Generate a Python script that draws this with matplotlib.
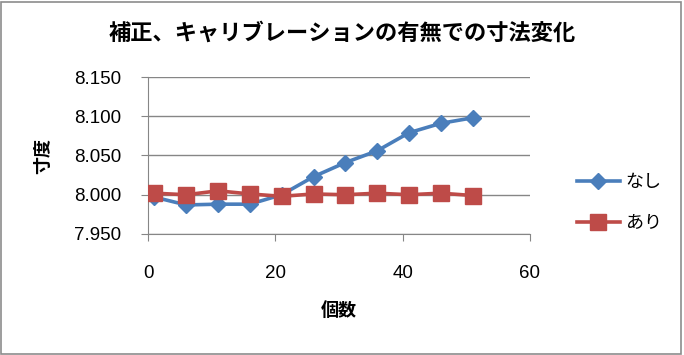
import matplotlib
matplotlib.use("Agg")
import matplotlib.pyplot as plt
from matplotlib.patches import Rectangle

plt.rcParams['font.family'] = ['Noto Sans CJK JP', 'DejaVu Sans']

x_counts = [1, 6, 11, 16, 21, 26, 31, 36, 41, 46, 51]
nashi = [7.997, 7.987, 7.988, 7.988, 8.000, 8.023, 8.041, 8.056, 8.079, 8.091, 8.098]
ari = [8.002, 8.000, 8.005, 8.001, 7.998, 8.001, 8.000, 8.002, 8.000, 8.002, 7.999]
yticks = [7.95, 8.0, 8.05, 8.1, 8.15]
xticks = [0, 20, 40, 60]

fig = plt.figure(figsize=(6.84, 3.55), dpi=100)
fig.patches.append(Rectangle((0.002, 0.004), 0.994, 0.99, transform=fig.transFigure,
                             fill=False, edgecolor='#8c8c8c', linewidth=1.2))

ax = fig.add_axes([148/684, 1-234/355, (530-148)/684, (234-77)/355])
ax.plot(x_counts, nashi, color='#4a7ebb', linewidth=2.6, marker='D', markersize=8,
        label='なし', zorder=3)
ax.plot(x_counts, ari, color='#be4b48', linewidth=2.6, marker='s', markersize=11,
        label='あり', zorder=4)

ax.set_xlim(0, 60)
ax.set_ylim(7.95, 8.15)
ax.set_xticks(xticks)
ax.set_yticks(yticks)
ax.set_yticklabels([f"{v:.3f}" for v in yticks])
ax.grid(axis='y', color='#868686', linewidth=1)
ax.set_axisbelow(True)
for s in ['top', 'right']:
    ax.spines[s].set_visible(False)
for s in ['left', 'bottom']:
    ax.spines[s].set_color('#868686')
ax.tick_params(axis='both', colors='#868686', labelcolor='black', labelsize=13.5, length=5)
ax.tick_params(axis='x', pad=17)
ax.tick_params(axis='y', pad=14)
for lab in ax.get_xticklabels() + ax.get_yticklabels():
    lab.set_family(['Liberation Sans', 'DejaVu Sans'])

ax.set_xlabel('個数', fontsize=13, fontweight='bold', labelpad=14)
ax.set_ylabel('寸度', fontsize=13, fontweight='bold', labelpad=16)
fig.text(0.5, 1-33/355, '補正、キャリブレーションの有無での寸法変化', ha='center', va='center',
         fontsize=16, fontweight='bold')

ax.legend(loc='center left', bbox_to_anchor=(1.08, 0.2), frameon=False, fontsize=13,
          handlelength=2.4, handletextpad=0.3, labelspacing=1.3)

fig.savefig('out.png', dpi=100)
